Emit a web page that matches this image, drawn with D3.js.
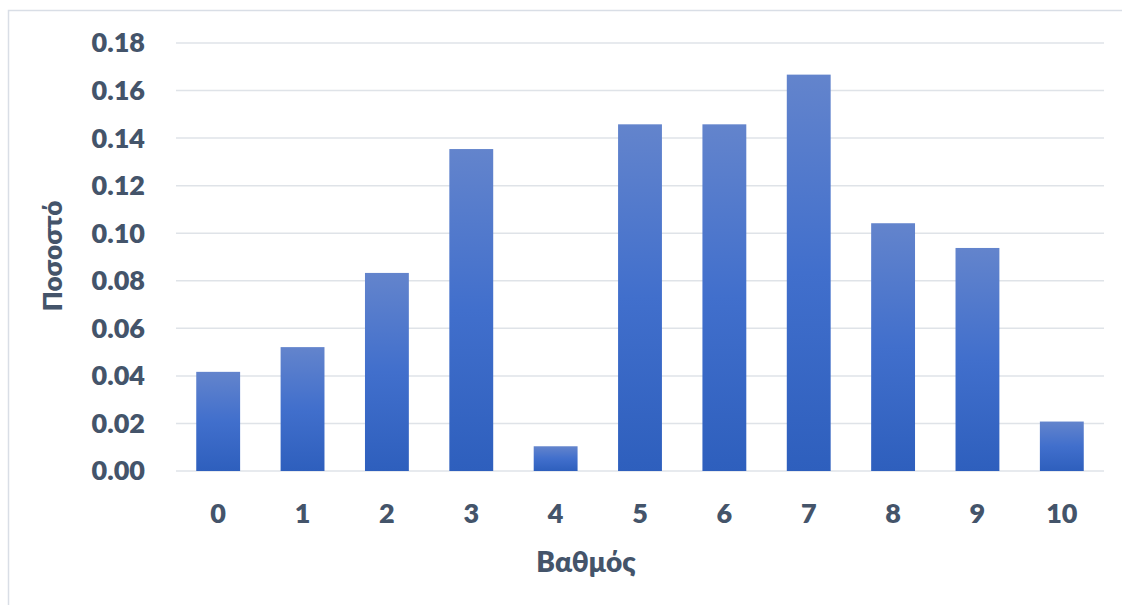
<!DOCTYPE html>
<html>
<head>
<meta charset="utf-8">
<script src="https://cdn.jsdelivr.net/npm/d3@7"></script>
<style>
  body { margin: 0; background: #fff; }
  text { font-family: Lato, "Open Sans", sans-serif; font-weight: 800; fill: #44546a; }
</style>
</head>
<body>
<div id="chart"></div>
<script>
// grades and share of students
const grades = ["0", "1", "2", "3", "4", "5", "6", "7", "8", "9", "10"];
const shares = [0.0417, 0.0521, 0.0833, 0.1354, 0.0104, 0.1458, 0.1458, 0.1667, 0.1042, 0.0938, 0.0208];
const yTicks = [0, 0.02, 0.04, 0.06, 0.08, 0.10, 0.12, 0.14, 0.16, 0.18];

const W = 1122, H = 605;
const margin = { top: 43, right: 18, bottom: 134, left: 176 };
const width = W - margin.left - margin.right;
const height = H - margin.top - margin.bottom;

const svg = d3.select("#chart").append("svg")
  .attr("width", W)
  .attr("height", H);

// chart area frame
svg.append("rect")
  .attr("x", 8.5).attr("y", 10.5)
  .attr("width", W).attr("height", H)
  .attr("fill", "none")
  .attr("stroke", "#d9dee6")
  .attr("stroke-width", 1.5);

const grad = svg.append("defs").append("linearGradient")
  .attr("id", "barGrad")
  .attr("x1", 0).attr("y1", 0).attr("x2", 0).attr("y2", 1);
grad.append("stop").attr("offset", "0%").attr("stop-color", "#6384cc");
grad.append("stop").attr("offset", "50%").attr("stop-color", "#416fcc");
grad.append("stop").attr("offset", "100%").attr("stop-color", "#2e5fbd");

const g = svg.append("g")
  .attr("transform", `translate(${margin.left},${margin.top})`);

const x = d3.scaleBand()
  .domain(grades)
  .range([0, width])
  .paddingInner(0.48)
  .paddingOuter(0.24);

const y = d3.scaleLinear()
  .domain([0, 0.18])
  .range([height, 0]);

// gridlines
g.append("g")
  .selectAll("line")
  .data(yTicks)
  .join("line")
  .attr("x1", 0).attr("x2", width)
  .attr("y1", d => y(d)).attr("y2", d => y(d))
  .attr("stroke", "#dfe3e8")
  .attr("stroke-width", 1.5);

// y tick labels
g.append("g")
  .selectAll("text")
  .data(yTicks)
  .join("text")
  .attr("x", -31)
  .attr("y", d => y(d))
  .attr("dy", "0.35em")
  .attr("text-anchor", "end")
  .attr("font-size", 27)
  .text(d => d3.format(".2f")(d));

// bars
g.append("g")
  .selectAll("rect")
  .data(shares)
  .join("rect")
  .attr("x", (d, i) => x(grades[i]))
  .attr("y", d => y(d))
  .attr("width", x.bandwidth())
  .attr("height", d => height - y(d))
  .attr("fill", "url(#barGrad)");

// x tick labels
g.append("g")
  .selectAll("text")
  .data(grades)
  .join("text")
  .attr("x", d => x(d) + x.bandwidth() / 2)
  .attr("y", height + 52)
  .attr("text-anchor", "middle")
  .attr("font-size", 27)
  .text(d => d);

// axis titles
svg.append("text")
  .attr("x", 586)
  .attr("y", 572)
  .attr("text-anchor", "middle")
  .attr("font-size", 28)
  .text("Βαθμός");

svg.append("text")
  .attr("transform", "translate(62,256) rotate(-90)")
  .attr("text-anchor", "middle")
  .attr("font-size", 26)
  .text("Ποσοστό");
</script>
</body>
</html>
